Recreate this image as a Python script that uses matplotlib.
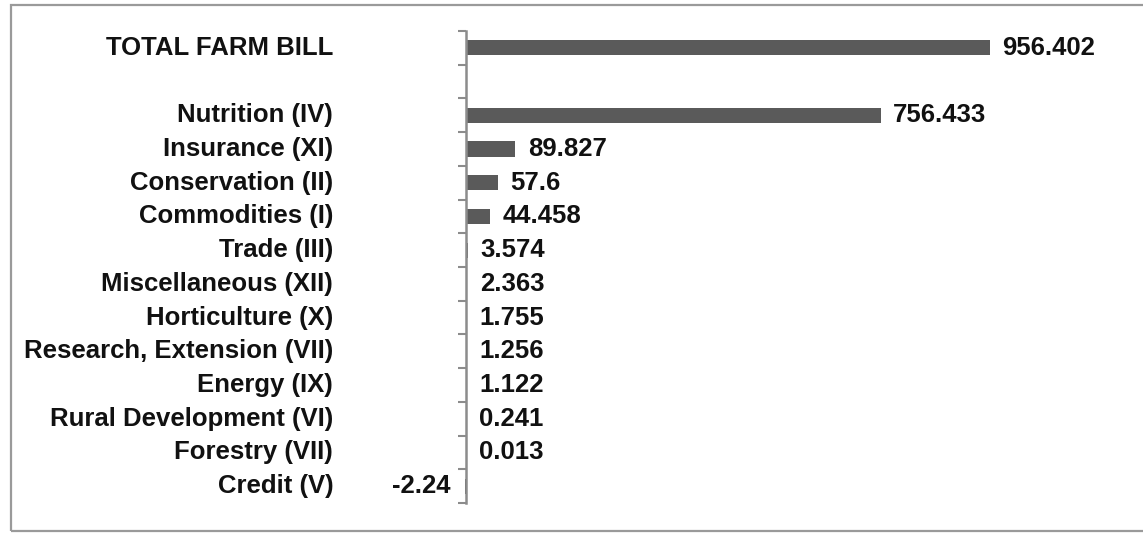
import matplotlib
matplotlib.use("Agg")
import matplotlib.pyplot as plt
from matplotlib.patches import Rectangle
from matplotlib.transforms import offset_copy

categories = ["TOTAL FARM BILL", "", "Nutrition (IV)", "Insurance (XI)", "Conservation (II)",
              "Commodities (I)", "Trade (III)", "Miscellaneous (XII)", "Horticulture (X)",
              "Research, Extension (VII)", "Energy (IX)", "Rural Development (VI)",
              "Forestry (VII)", "Credit (V)"]
values = [956.402, None, 756.433, 89.827, 57.6, 44.458, 3.574, 2.363, 1.755,
          1.256, 1.122, 0.241, 0.013, -2.24]
value_labels = ["956.402", "", "756.433", "89.827", "57.6", "44.458", "3.574", "2.363",
                "1.755", "1.256", "1.122", "0.241", "0.013", "-2.24"]

W, H = 1143, 533
fig = plt.figure(figsize=(W / 100, H / 100), dpi=100)
plt.rcParams['font.family'] = ['Liberation Sans', 'DejaVu Sans']
FS = 18.5

ax_left, ax_right = 336, 1130
ax_top, ax_bottom = 31, 503
ax = fig.add_axes([ax_left / W, (H - ax_bottom) / H, (ax_right - ax_left) / W, (ax_bottom - ax_top) / H])

scale = 0.548  # px per unit
zero_px = 466
xmin = -(zero_px - ax_left) / scale
xmax = (ax_right - zero_px) / scale
ax.set_xlim(xmin, xmax)
n = len(categories)
ax.set_ylim(n - 0.5, -0.5)

bar_color = "#5a5a5a"
for i, (v, lab) in enumerate(zip(values, value_labels)):
    if v is None:
        continue
    ax.barh(i, v, height=0.45, color=bar_color, linewidth=0, zorder=1)
    if v >= 0:
        tr = offset_copy(ax.transData, fig=fig, x=9, y=0, units='points')
        ax.text(v, i, lab, transform=tr, ha='left', va='center', fontsize=FS,
                fontweight='bold', color='#111111')
    else:
        tr = offset_copy(ax.transData, fig=fig, x=-10, y=0, units='points')
        ax.text(v, i, lab, transform=tr, ha='right', va='center', fontsize=FS,
                fontweight='bold', color='#111111')

# category labels at left edge of plot
lab_tr = offset_copy(ax.transData, fig=fig, x=-2, y=0, units='points')
for i, c in enumerate(categories):
    if c:
        ax.text(xmin, i, c, transform=lab_tr, ha='right', va='center', fontsize=FS,
                fontweight='bold', color='#111111')

for s in ['top', 'right', 'bottom']:
    ax.spines[s].set_visible(False)
ax.spines['left'].set_position(('data', 0))
ax.spines['left'].set_color('#8c8c8c')
ax.spines['left'].set_linewidth(1.8)
ax.spines['left'].set_zorder(3)
ax.set_yticks([i - 0.5 for i in range(n + 1)])
ax.set_yticklabels([])
ax.tick_params(axis='y', length=6, width=1.5, color='#8c8c8c', direction='out')
ax.set_xticks([])

fig.patches.append(Rectangle((11 / W, 2.5 / H), 1200 / W, (528 - 2.5) / H,
                             transform=fig.transFigure, fill=False,
                             edgecolor='#9a9a9a', linewidth=1.6))

fig.savefig("out.png", dpi=100)
